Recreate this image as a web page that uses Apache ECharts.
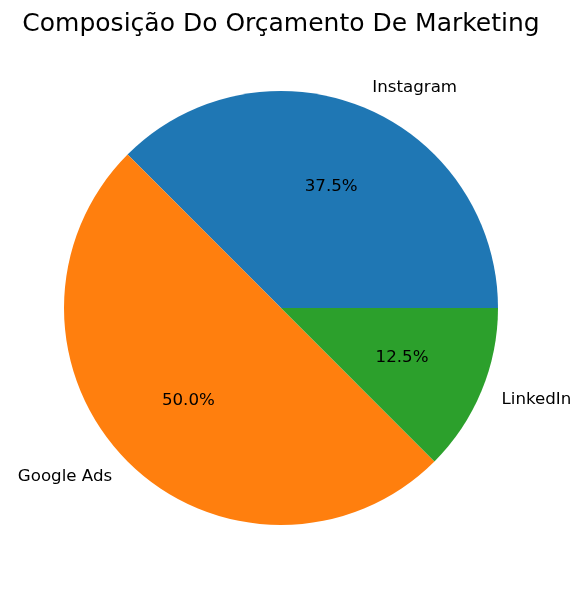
<!DOCTYPE html>
<html>
<head>
<meta charset="utf-8">
<script src="https://cdn.jsdelivr.net/npm/echarts@6/dist/echarts.min.js"></script>
<style>html,body{margin:0;padding:0;background:#fff}#c{width:581px;height:590px}</style>
</head>
<body>
<div id="c"></div>
<script>
const categories = ["Instagram", "Google Ads", "LinkedIn"];
const values = [37.5, 50.0, 12.5];
const colors = ["#1f77b4", "#ff7f0e", "#2ca02c"];
const titleText = "Composição Do Orçamento De Marketing";

const R = 217;
const cx = 281, cy = 308;
const font = "DejaVu Sans";
const data = categories.map((c, i) => ({ name: c, value: values[i], itemStyle: { color: colors[i] } }));
const total = values.reduce((a, b) => a + b, 0);

const chart = echarts.init(document.getElementById('c'));
chart.setOption({
  animation: false,
  title: {
    text: titleText, left: cx - 5, top: 7, textAlign: 'center',
    textStyle: { fontFamily: font, fontSize: 25, fontWeight: 'normal', color: '#000' }
  },
  series: [
    {
      type: 'pie', center: [cx, cy], radius: [0, R],
      startAngle: 0, clockwise: false, silent: true,
      avoidLabelOverlap: false,
      data: data,
      label: {
        show: true, position: 'outside', distanceToLabelLine: 0,
        formatter: '{b}', fontFamily: font, fontSize: 16.67, color: '#000'
      },
      labelLine: { show: false, length: R * 0.1, length2: 0 }
    },
    {
      type: 'pie', center: [cx, cy], radius: [R * 0.18, R],
      startAngle: 0, clockwise: false, silent: true,
      avoidLabelOverlap: false,
      data: data.map(d => ({ name: d.name, value: d.value, itemStyle: { color: 'rgba(0,0,0,0)' } })),
      label: {
        show: true, position: 'inside',
        formatter: p => (p.value / total * 100).toFixed(1) + '%',
        fontFamily: font, fontSize: 16.67, color: '#000'
      },
      labelLine: { show: false }
    }
  ]
});
</script>
</body>
</html>
